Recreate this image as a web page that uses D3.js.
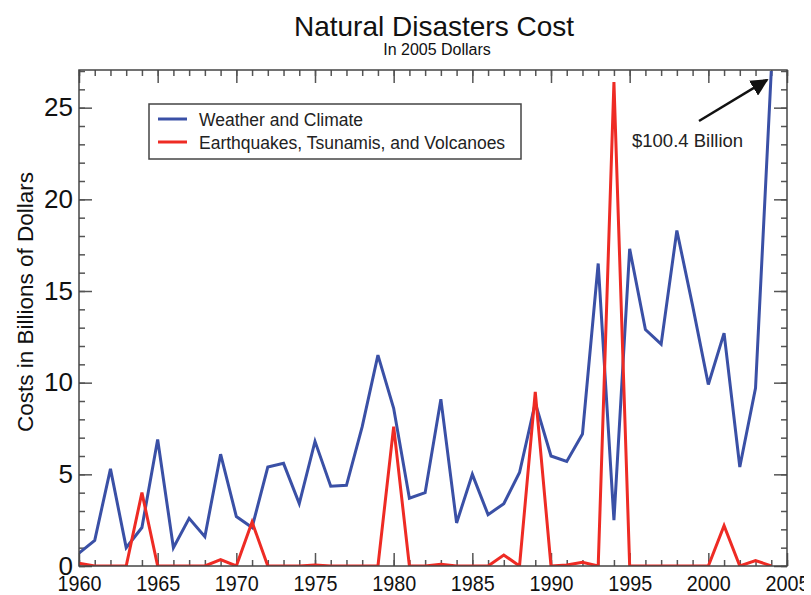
<!DOCTYPE html>
<html>
<head>
<meta charset="utf-8">
<script src="https://cdn.jsdelivr.net/npm/d3@7"></script>
<style>
  html, body { margin: 0; padding: 0; background: #fff; }
  svg { display: block; font-family: "Liberation Sans", Arial, Helvetica, sans-serif; }
</style>
</head>
<body>
<svg id="chart" width="811" height="595"></svg>
<script>
const years = d3.range(1960, 2005);
const weatherClimate = [
  0.7, 1.4, 5.3, 1.0, 2.1, 6.9, 1.0, 2.6, 1.6, 6.1,
  2.7, 2.1, 5.4, 5.6, 3.4, 6.8, 4.35, 4.4, 7.6, 11.5,
  8.6, 3.7, 4.0, 9.1, 2.35, 5.0, 2.8, 3.4, 5.1, 8.9,
  6.0, 5.7, 7.2, 16.5, 2.5, 17.3, 12.9, 12.1, 18.3, 14.2,
  9.9, 12.7, 5.4, 9.7, 100.4
];
const earthquakes = [
  0.15, 0, 0, 0, 4.0, 0, 0, 0, 0, 0.35,
  0, 2.4, 0, 0, 0, 0.05, 0, 0, 0, 0,
  7.6, 0, 0, 0.1, 0, 0, 0, 0.6, 0, 9.5,
  0, 0.05, 0.2, 0, 26.4, 0, 0, 0, 0, 0,
  0, 2.2, 0, 0.3, 0
];
const xTicks = [1960, 1965, 1970, 1975, 1980, 1985, 1990, 1995, 2000, 2005];
const yTicks = [0, 5, 10, 15, 20, 25];
const seriesNames = ["Weather and Climate", "Earthquakes, Tsunamis, and Volcanoes"];
const seriesColors = ["#3a50a6", "#ee2b24"];
const annotationText = "$100.4 Billion";

const L = 79, R = 787, T = 70, B = 566;
const svg = d3.select("#chart");
const x = d3.scaleLinear().domain([1960, 2005]).range([L, R]);
const y = d3.scaleLinear().domain([0, 27]).range([B, T + 1]).clamp(true);

const defs = svg.append("defs");
defs.append("clipPath").attr("id", "plotclip")
  .append("rect").attr("x", L).attr("y", T).attr("width", R - L).attr("height", B - T);
defs.append("clipPath").attr("id", "pageclip")
  .append("rect").attr("x", 0).attr("y", 0).attr("width", 804).attr("height", 595);

// Titles
svg.append("text").attr("x", 434).attr("y", 36).attr("text-anchor", "middle")
  .attr("font-size", 28).attr("fill", "#111").text("Natural Disasters Cost");
svg.append("text").attr("x", 437).attr("y", 55).attr("text-anchor", "middle")
  .attr("font-size", 16).attr("fill", "#111").text("In 2005 Dollars");

// Axis title
svg.append("text").attr("transform", "translate(33,302) rotate(-90)")
  .attr("text-anchor", "middle").attr("font-size", 22.5).attr("fill", "#111")
  .text("Costs in Billions of Dollars");

const tickColor = "#555";
function styleAxis(g) {
  g.select(".domain").remove();
  g.selectAll(".tick line").attr("stroke", tickColor).attr("stroke-width", 1.5);
}
const minorX = d3.range(1960, 2006);
const minorY = d3.range(0, 28);

// Bottom
svg.append("g").attr("transform", `translate(0,${B})`)
  .call(d3.axisBottom(x).tickValues(minorX).tickSize(-6).tickFormat(""))
  .call(styleAxis);
svg.append("g").attr("transform", `translate(0,${B})`)
  .call(d3.axisBottom(x).tickValues(xTicks).tickSize(-13).tickFormat(""))
  .call(styleAxis);
const bottomLabels = svg.append("g").attr("clip-path", "url(#pageclip)")
  .append("g").attr("transform", `translate(0,${B})`)
  .call(d3.axisBottom(x).tickValues(xTicks).tickSize(0).tickFormat(d3.format("d")))
  .call(styleAxis);
bottomLabels.selectAll(".tick text").attr("font-size", 22).attr("fill", "#111")
  .attr("textLength", 44).attr("lengthAdjust", "spacingAndGlyphs")
  .attr("dy", null).attr("y", 25);

// Top
svg.append("g").attr("transform", `translate(0,${T})`)
  .call(d3.axisTop(x).tickValues(minorX).tickSize(-6).tickFormat(""))
  .call(styleAxis);
svg.append("g").attr("transform", `translate(0,${T})`)
  .call(d3.axisTop(x).tickValues(xTicks).tickSize(-13).tickFormat(""))
  .call(styleAxis);

// Left
svg.append("g").attr("transform", `translate(${L},0)`)
  .call(d3.axisLeft(y).tickValues(minorY).tickSize(-6).tickFormat(""))
  .call(styleAxis);
const left = svg.append("g").attr("transform", `translate(${L},0)`)
  .call(d3.axisLeft(y).tickValues(yTicks).tickSize(-13).tickPadding(6).tickFormat(d3.format("d")))
  .call(styleAxis);
left.selectAll(".tick text").attr("font-size", 26).attr("fill", "#111");

// Right
svg.append("g").attr("transform", `translate(${R},0)`)
  .call(d3.axisRight(y).tickValues(minorY).tickSize(-6).tickFormat(""))
  .call(styleAxis);
svg.append("g").attr("transform", `translate(${R},0)`)
  .call(d3.axisRight(y).tickValues(yTicks).tickSize(-13).tickFormat(""))
  .call(styleAxis);

// Lines
const line = d3.line().x((d, i) => x(years[i])).y(d => y(d));
const plot = svg.append("g").attr("clip-path", "url(#plotclip)");
plot.append("path").datum(weatherClimate).attr("d", line)
  .attr("fill", "none").attr("stroke", seriesColors[0]).attr("stroke-width", 3).attr("stroke-linejoin", "miter");
plot.append("path").datum(earthquakes).attr("d", line)
  .attr("fill", "none").attr("stroke", seriesColors[1]).attr("stroke-width", 3).attr("stroke-linejoin", "miter");

// Frame
svg.append("rect").attr("x", L).attr("y", T).attr("width", R - L).attr("height", B - T)
  .attr("fill", "none").attr("stroke", "#444").attr("stroke-width", 1.5);

// Legend
const lg = svg.append("g");
lg.append("rect").attr("x", 149).attr("y", 104).attr("width", 372).attr("height", 55)
  .attr("fill", "#fff").attr("stroke", "#444").attr("stroke-width", 1.5);
seriesNames.forEach((name, i) => {
  const yy = 119 + i * 23;
  lg.append("line").attr("x1", 158).attr("x2", 187).attr("y1", yy).attr("y2", yy)
    .attr("stroke", seriesColors[i]).attr("stroke-width", 3);
  lg.append("text").attr("x", 199).attr("y", yy + 6.5).attr("font-size", 17.5)
    .attr("fill", "#222").text(name);
});

// Annotation
defs.append("marker").attr("id", "ah").attr("viewBox", "0 0 10 10")
  .attr("refX", 9).attr("refY", 5).attr("markerWidth", 7).attr("markerHeight", 7)
  .attr("markerUnits", "strokeWidth").attr("orient", "auto")
  .append("path").attr("d", "M0,0 L10,5 L0,10 Z").attr("fill", "#111");
svg.append("line").attr("x1", 699).attr("y1", 121).attr("x2", 767).attr("y2", 80)
  .attr("stroke", "#111").attr("stroke-width", 2.5).attr("marker-end", "url(#ah)");
svg.append("text").attr("x", 632).attr("y", 147).attr("font-size", 18.5)
  .attr("fill", "#222").text(annotationText);
</script>
</body>
</html>
